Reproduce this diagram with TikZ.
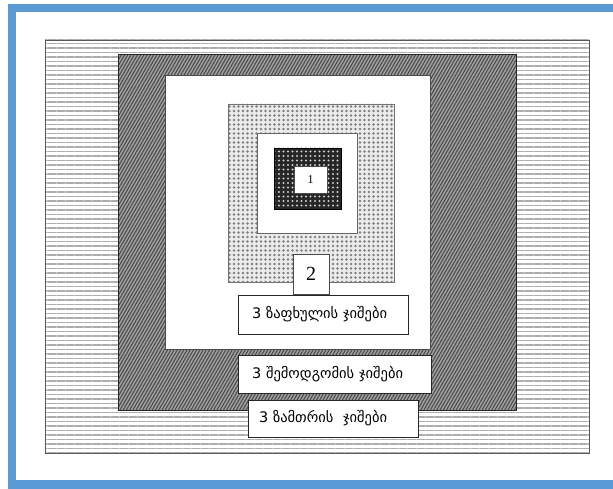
\documentclass[tikz,border=0pt]{standalone}
\usepackage{fontspec}
\setmainfont{Liberation Serif}
\newfontfamily\geo{DejaVu Sans}
\usetikzlibrary{patterns.meta,shadows}
\definecolor{frameblue}{HTML}{5B9BD5}
\begin{document}
\begin{tikzpicture}[x=1pt,y=-1pt,
  labelbox/.style={draw=black!85, line width=1pt, fill=white, inner ysep=0pt, inner xsep=0pt,
    drop shadow={shadow xshift=1.2pt, shadow yshift=-1.2pt, opacity=0.5},
    font=\geo\fontsize{14.5}{16}\selectfont, align=left},
  numbox/.style={draw=black!70, line width=0.8pt, fill=white, inner sep=0pt},
  edge/.style={draw=black!65, line width=0.8pt}]
\useasboundingbox (0,0) rectangle (613,489);
\fill[white] (0,0) rectangle (613,489);
% blue frame
\fill[frameblue] (8,4) rectangle (613,12);
\fill[frameblue] (8,4) rectangle (16,489);
\fill[frameblue] (8,480) rectangle (613,489);
% outer striped field
\fill[white] (45,40) rectangle (589,453);
\fill[pattern={Lines[angle=0,distance=4.5pt,line width=1.4pt]}, pattern color=black!32] (45,40) rectangle (589,453);
\draw[edge] (45,40) rectangle (589,453);
% dark hatched band
\fill[black!38] (118,55) rectangle (516,410);
\fill[pattern={Lines[angle=60,distance=2.8pt,line width=1pt]}, pattern color=black!72] (118,55) rectangle (516,410);
\draw[black!85, line width=1pt] (118,55) rectangle (516,410);
% white field
\filldraw[fill=white, draw=black!70, line width=0.8pt] (165,75) rectangle (430,349);
% light dotted square
\fill[black!8] (228,104) rectangle (394,282);
\fill[pattern={Dots[distance=4.5pt,radius=1.3pt]}, pattern color=black!50] (228,104) rectangle (394,282);
\draw[black!55, line width=0.8pt] (228,104) rectangle (394,282);
% inner white square
\filldraw[fill=white, draw=black!60, line width=0.8pt] (257,133) rectangle (357,233);
% dark dotted square
\fill[black!85] (274,148) rectangle (341,209);
\fill[pattern={Dots[distance=4.5pt,radius=1.2pt]}, pattern color=black!20] (274,148) rectangle (341,209);
\draw[black, line width=0.8pt] (274,148) rectangle (341,209);
% numbered boxes
\node[numbox, minimum width=33pt, minimum height=27pt, font=\fontsize{12}{14}\selectfont] (n1) at (310.5,179.5) {1};
\node[numbox, minimum width=36pt, minimum height=40pt, font=\fontsize{20}{22}\selectfont] (n2) at (311,274) {2};
% label boxes
\node[labelbox, minimum width=170pt, minimum height=39pt, text width=142pt] (summer) at (323,314.5) {3 ზაფხულის ჯიშები};
\node[labelbox, minimum width=193pt, minimum height=38pt, text width=165pt] (autumn) at (334.5,374) {3 შემოდგომის ჯიშები};
\node[labelbox, minimum width=170pt, minimum height=37pt, text width=148pt] (winter) at (333,418.5) {3 ზამთრის \ ჯიშები};
\end{tikzpicture}
\end{document}
